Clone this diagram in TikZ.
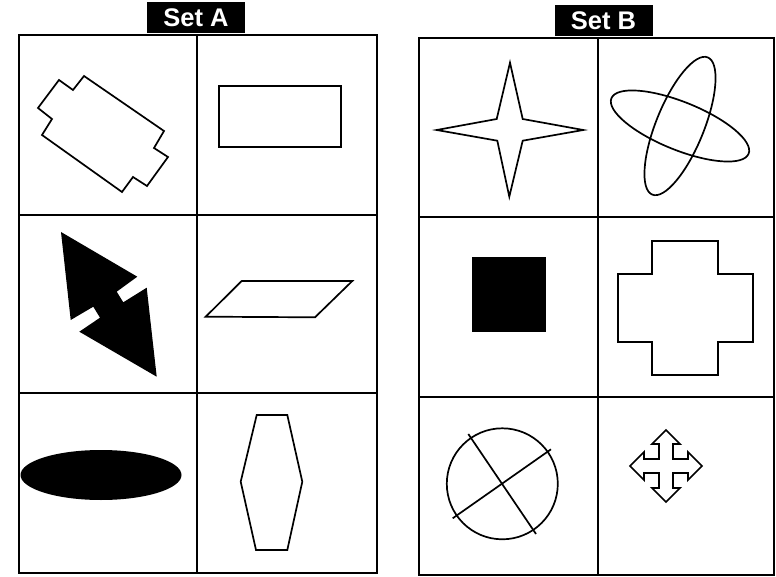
\documentclass[tikz,border=0pt]{standalone}
\usepackage{fontspec}
\setsansfont{Liberation Sans}
\begin{document}
\begin{tikzpicture}[x=1pt,y=-1pt,
  frameline/.style={line width=2pt},
  outl/.style={line width=1.7pt, line join=miter},
  blackfill/.style={fill=black, draw=none},
  setlabel/.style={fill=black, text=white, font=\fontsize{25.5}{25.5}\selectfont\sffamily\bfseries,
    inner sep=0pt, minimum width=98pt, minimum height=31pt, text height=18pt, text depth=0pt}]
\useasboundingbox (0,0) rectangle (776,577);

% ---- labels ----
\node[setlabel] (labA) at (196,17.5) {Set A};
\node[setlabel] (labB) at (603.5,20.5) {Set B};

% ---- Set A grid ----
\draw[frameline] (19,35) rectangle (377,573);
\draw[frameline] (197,35) -- (197,573);
\draw[frameline] (19,215) -- (377,215);
\draw[frameline] (19,393) -- (377,393);

% ---- Set B grid ----
\draw[frameline] (419,38) rectangle (774,575);
\draw[frameline] (598,38) -- (598,575);
\draw[frameline] (419,217) -- (774,217);
\draw[frameline] (419,397) -- (774,397);

% ---- A (1,1): notched rotated rectangle ----
\draw[outl] (59,80) -- (73,90) -- (84,76) -- (164,131) -- (154,148) -- (168,157)
  -- (147,186) -- (133,177) -- (122,192) -- (42,135) -- (52,119) -- (38,108) -- cycle;

% ---- A (1,2): rectangle ----
\draw[outl] (219,86) rectangle (341,147);

% ---- A (2,1): black split arrowheads ----
\fill[blackfill] (61,232) -- (137.3,276.7) -- (116.7,291.7) -- (123.3,302.3) -- (146.7,287.7)
  -- (156.7,376.7) -- (79.3,331.7) -- (100,317.7) -- (93.3,306.7) -- (70.7,320) -- cycle;

% ---- A (2,2): parallelogram ----
\draw[outl] (241.7,281) -- (352.3,281) -- (315,317.3) -- (205.7,316.7) -- cycle;

% ---- A (3,1): black ellipse ----
\fill[blackfill] (101,475) ellipse [x radius=80.5, y radius=25];

% ---- A (3,2): tall hexagon ----
\draw[outl] (256.7,415) -- (287.3,415) -- (302.3,481.7) -- (287.3,550) -- (256,550) -- (240.7,481.7) -- cycle;

% ---- B (1,1): four-point star ----
\draw[outl] (510,62.7) -- (522.7,119) -- (583.3,130) -- (522.7,140.7) -- (509.3,196.7)
  -- (497.3,140.7) -- (436.7,130) -- (496.7,119) -- cycle;

% ---- B (1,2): crossed ellipses ----
\draw[outl, rotate around={-22:(680,126)}] (680,126) ellipse [x radius=74, y radius=24];
\draw[outl, rotate around={68:(680,126)}] (680,126) ellipse [x radius=74, y radius=24];

% ---- B (2,1): black square ----
\fill[blackfill] (472,257) rectangle (546,332);

% ---- B (2,2): plus-shaped outline ----
\draw[outl] (651.7,241) -- (718.3,241) -- (718.3,274) -- (752.7,274) -- (752.7,341.7)
  -- (718.3,341.7) -- (718.3,375) -- (651.7,375) -- (651.7,341.7) -- (618.3,341.7)
  -- (618.3,274) -- (651.7,274) -- cycle;

% ---- B (3,1): circle with crossing lines ----
\draw[outl] (502.3,483.8) circle [radius=55.5];
\draw[outl] (468.3,434) -- (536,534);
\draw[outl] (452.7,518.3) -- (551,449.3);

% ---- B (3,2): four-way arrow ----
\begin{scope}[shift={(666,466)}]
\draw[outl] (-7,-7) -- (-7,-22) -- (-14,-22) -- (0,-36) -- (14,-22) -- (7,-22) -- (7,-7)
  -- (22,-7) -- (22,-14) -- (36,0) -- (22,14) -- (22,7) -- (7,7)
  -- (7,22) -- (14,22) -- (0,36) -- (-14,22) -- (-7,22) -- (-7,7)
  -- (-22,7) -- (-22,14) -- (-36,0) -- (-22,-14) -- (-22,-7) -- cycle;
\end{scope}
\end{tikzpicture}
\end{document}
